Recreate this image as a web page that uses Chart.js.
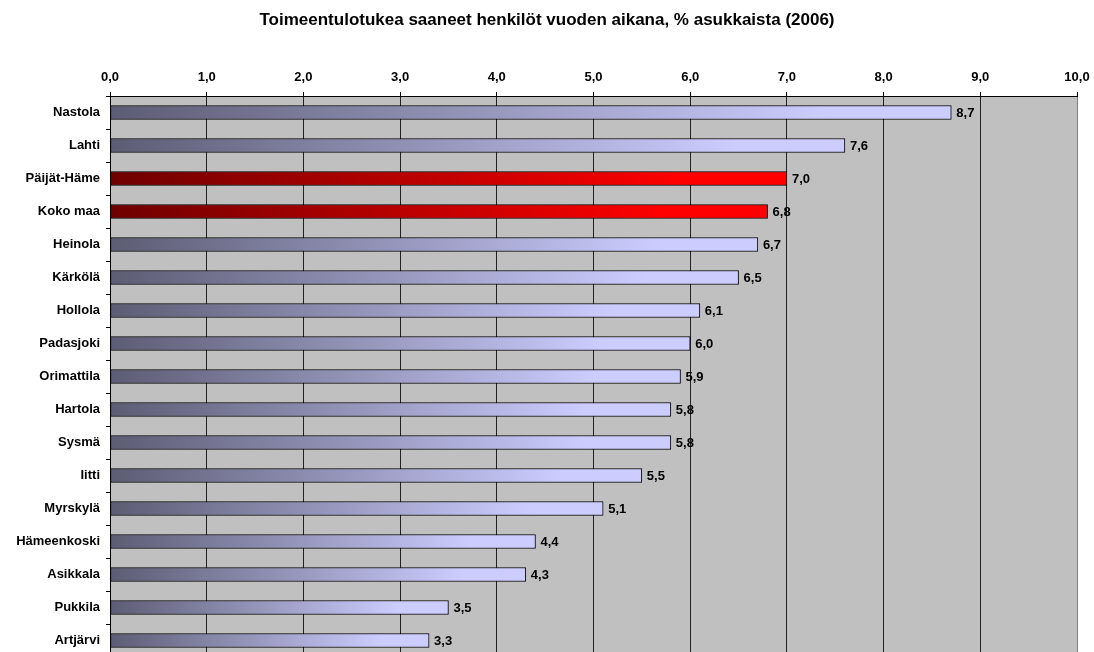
<!DOCTYPE html>
<html>
<head>
<meta charset="utf-8">
<script src="https://cdn.jsdelivr.net/npm/chart.js@4/dist/chart.umd.min.js"></script>
<style>
  html, body { margin: 0; padding: 0; background: #fff; overflow: hidden; }
  #wrap { width: 1094px; height: 672px; position: relative; }
</style>
</head>
<body>
<div id="wrap"><canvas id="chart"></canvas></div>
<script>
// data
const kunnat = ['Nastola', 'Lahti', 'Päijät-Häme', 'Koko maa', 'Heinola', 'Kärkölä', 'Hollola',
  'Padasjoki', 'Orimattila', 'Hartola', 'Sysmä', 'Iitti', 'Myrskylä', 'Hämeenkoski',
  'Asikkala', 'Pukkila', 'Artjärvi']
const osuus = [8.7, 7.6, 7.0, 6.8, 6.7, 6.5, 6.1, 6.0, 5.9, 5.8, 5.8, 5.5, 5.1, 4.4, 4.3, 3.5, 3.3]
const korostetut = ['Päijät-Häme', 'Koko maa']
const otsikko = 'Toimeentulotukea saaneet henkilöt vuoden aikana, % asukkaista (2006)'

const fmt = v => v.toFixed(1).replace('.', ',')
const FONT = 'Arial, "Liberation Sans", sans-serif'

// gradient per bar, dark at 0 -> light at the bar end
function barFill(ctx) {
  const chart = ctx.chart
  if (!chart.chartArea || !chart.scales.x) return '#9999cc'
  const x0 = chart.scales.x.getPixelForValue(0)
  const x1 = chart.scales.x.getPixelForValue(ctx.raw)
  const g = chart.ctx.createLinearGradient(x0, 0, x1, 0)
  if (korostetut.includes(kunnat[ctx.dataIndex])) {
    g.addColorStop(0, '#6e0000')
    g.addColorStop(0.85, '#ff0000')
    g.addColorStop(1, '#ff0000')
  } else {
    g.addColorStop(0, '#5c5c74')
    g.addColorStop(0.85, '#ccccff')
    g.addColorStop(1, '#ccccff')
  }
  return g
}

const plotBg = {
  id: 'plotBg',
  beforeDraw(chart) {
    const a = chart.chartArea, c = chart.ctx
    c.save()
    c.fillStyle = '#c0c0c0'
    c.fillRect(a.left, a.top, a.right - a.left, a.bottom - a.top)
    c.restore()
  }
}

// title centred on the whole canvas, not on the padded box
const titleText = {
  id: 'titleText',
  afterDraw(chart) {
    const c = chart.ctx
    c.save()
    c.font = 'bold 17px ' + FONT
    c.fillStyle = '#000'
    c.textAlign = 'center'
    c.textBaseline = 'middle'
    c.fillText(otsikko, chart.width / 2, 20)
    c.restore()
  }
}

const valueLabels = {
  id: 'valueLabels',
  afterDatasetsDraw(chart) {
    const c = chart.ctx
    c.save()
    c.font = 'bold 13px ' + FONT
    c.fillStyle = '#000'
    c.textAlign = 'left'
    c.textBaseline = 'middle'
    chart.getDatasetMeta(0).data.forEach((bar, i) => {
      c.fillText(fmt(osuus[i]), bar.x + 5, bar.y + 1)
    })
    c.restore()
  }
}

new Chart(document.getElementById('chart'), {
  type: 'bar',
  data: {
    labels: kunnat,
    datasets: [{
      data: osuus,
      backgroundColor: barFill,
      borderColor: '#000',
      borderWidth: 1,
      borderSkipped: false,
      barThickness: 14
    }]
  },
  options: {
    indexAxis: 'y',
    responsive: true,
    maintainAspectRatio: false,
    animation: false,
    layout: { padding: { left: 0, right: 17, top: 30, bottom: 15 } },
    plugins: {
      legend: { display: false },
      tooltip: { enabled: false },
      title: { display: false }
    },
    scales: {
      x: {
        position: 'top',
        min: 0,
        max: 10,
        ticks: {
          stepSize: 1,
          color: '#000',
          padding: 7,
          font: { family: FONT, size: 13, weight: 'bold' },
          callback: v => fmt(v)
        },
        grid: {
          color: ctx => ctx.tick && ctx.tick.value === 10 ? '#808080' : '#222',
          lineWidth: 1,
          tickLength: 4,
          tickColor: '#000'
        },
        border: { color: '#000', width: 1 },
        afterFit(scale) {
          scale.height = 66
          scale.paddingLeft = 0
          scale.paddingRight = 0
        }
      },
      y: {
        ticks: {
          color: '#000',
          padding: 6,
          font: { family: FONT, size: 13, weight: 'bold' }
        },
        grid: {
          drawOnChartArea: false,
          offset: true,
          tickLength: 4,
          tickColor: '#000'
        },
        border: { color: '#000', width: 1 },
        afterFit(scale) { scale.width = 110 }
      }
    }
  },
  plugins: [plotBg, valueLabels, titleText]
})
</script>
</body>
</html>
